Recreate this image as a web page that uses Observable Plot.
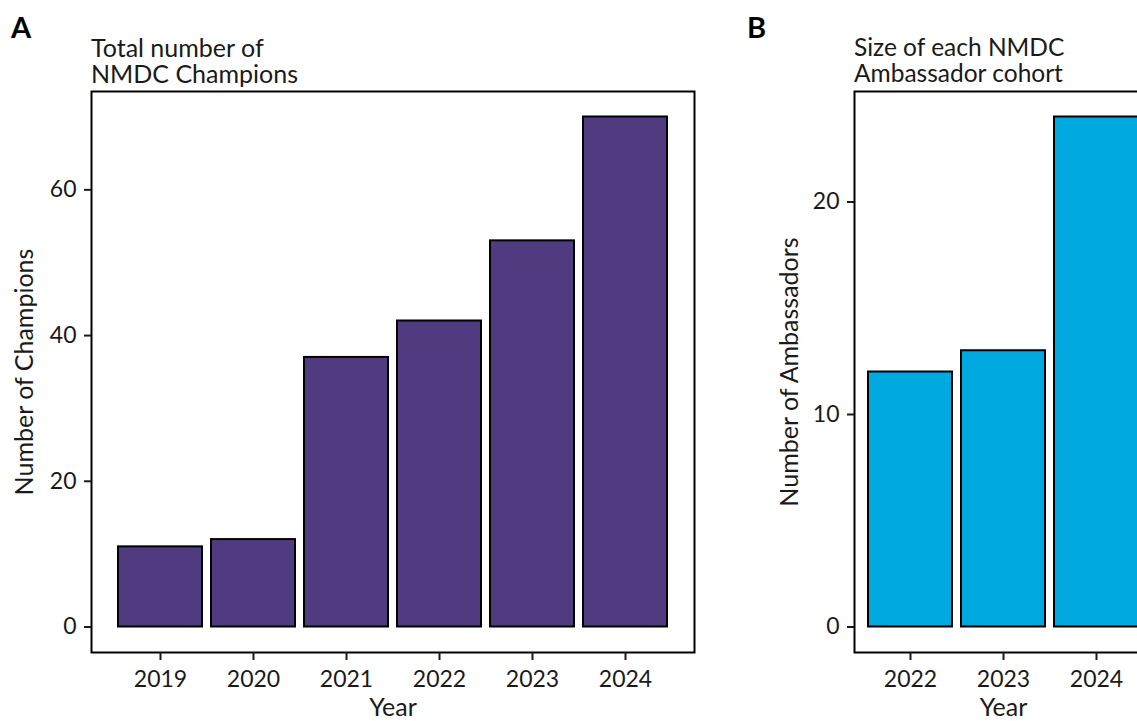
<!DOCTYPE html>
<html>
<head>
<meta charset="utf-8">
<script src="https://cdn.jsdelivr.net/npm/d3@7"></script>
<script src="https://cdn.jsdelivr.net/npm/@observablehq/plot@0.6"></script>
<style>
  html, body { margin: 0; padding: 0; background: #fff; overflow: hidden; width: 1137px; height: 721px; }
  #root { position: relative; width: 1137px; height: 721px; font-family: Lato, "Noto Sans", sans-serif; color: #1a1a1a; overflow: hidden; }
  .panel { position: absolute; top: 0; }
  .panel svg { max-width: none !important; }
  .tag { position: absolute; font-weight: 700; font-size: 29px; line-height: 1; color: #000; }
  .title { position: absolute; font-size: 25px; line-height: 26px; height: 26px; color: #1a1a1a; white-space: nowrap; }
  g[aria-label="y-axis label"], g[aria-label="x-axis label"] { font-size: 25px; }
</style>
</head>
<body>
<div id="root">
  <div class="tag" style="left:11px; top:12px;">A</div>
  <div class="title" style="left:91px; top:34px;">Total number of</div>
  <div class="title" style="left:91px; top:60px;">NMDC Champions</div>
  <div class="tag" style="left:747px; top:12px;">B</div>
  <div class="title" style="left:854px; top:34px; font-size:24.5px;">Size of each NMDC</div>
  <div class="title" style="left:854px; top:60px; font-size:24.5px;">Ambassador cohort</div>
  <div class="panel" id="pa" style="left:0px; width:720px;"></div>
  <div class="panel" id="pb" style="left:740px; width:440px;"></div>
</div>
<script>
// ---- data ----
const yearsA = ["2019", "2020", "2021", "2022", "2023", "2024"];
const champions = [11, 12, 37, 42, 53, 70];
const ticksA = [0, 20, 40, 60];

const yearsB = ["2022", "2023", "2024"];
const ambassadors = [12, 13, 24];
const ticksB = [0, 10, 20];

const colorA = "#503B80";
const colorB = "#00A9E0";

const dataA = yearsA.map((y, i) => ({year: y, value: champions[i]}));
const dataB = yearsB.map((y, i) => ({year: y, value: ambassadors[i]}));

const common = {
  height: 721,
  marginTop: 91,
  marginBottom: 69,
  style: {fontFamily: "Lato, 'Noto Sans', sans-serif", fontSize: "23px", color: "#1a1a1a", background: "transparent", overflow: "visible", maxWidth: "none"}
};

function panel(data, years, ticks, domainY, color, label, width, marginLeft, marginRight, padOuter, labelOffset) {
  return Plot.plot({
    ...common,
    width,
    marginLeft,
    marginRight,
    x: {type: "band", domain: years, paddingInner: 0.1, paddingOuter: padOuter},
    y: {domain: domainY},
    marks: [
      Plot.barY(data, {x: "year", y: "value", fill: color, stroke: "#000", strokeWidth: 2}),
      Plot.frame({stroke: "#000", strokeWidth: 2}),
      Plot.axisY({ticks, tickSize: 7, tickPadding: 8, strokeWidth: 2, label, labelAnchor: "center", labelArrow: "none", labelOffset, fill: "#1a1a1a"}),
      Plot.axisX({tickSize: 8, tickPadding: 10, strokeWidth: 2, label: "Year", labelAnchor: "center", labelArrow: "none", labelOffset: 63, fill: "#1a1a1a"})
    ]
  });
}

document.getElementById("pa").appendChild(
  panel(dataA, yearsA, ticksA, [-3.5, 73.5], colorA, "Number of Champions", 720, 91, 26, 0.29, 76)
);
document.getElementById("pb").appendChild(
  panel(dataB, yearsB, ticksB, [-1.2, 25.2], colorB, "Number of Ambassadors", 440, 114, 28, 0.144, 74)
);
</script>
</body>
</html>
